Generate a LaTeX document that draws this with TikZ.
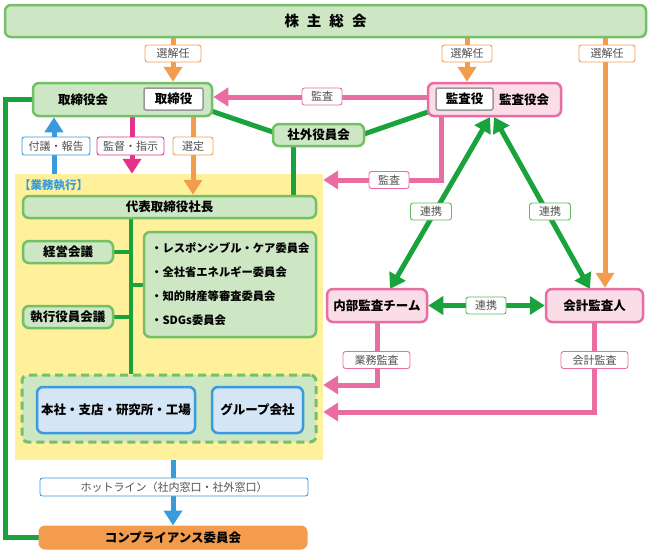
\documentclass[tikz,border=0pt]{standalone}
\usepackage{fontspec}
\setmainfont{Noto Sans CJK JP}
\usetikzlibrary{arrows.meta,calc}
\definecolor{gfill}{HTML}{CDE6C4}
\definecolor{gborder}{HTML}{74C066}
\definecolor{gline}{HTML}{1AA33C}
\definecolor{pfill}{HTML}{FBDDE8}
\definecolor{pline}{HTML}{E96DA3}
\definecolor{oline}{HTML}{F39C4E}
\definecolor{bline}{HTML}{3A9BDC}
\definecolor{bfill}{HTML}{D4E5F5}
\definecolor{mline}{HTML}{E4338B}
\definecolor{yfill}{HTML}{FFF09C}
\definecolor{lbltext}{HTML}{505050}
\definecolor{glbl}{HTML}{5DBB5F}
\pgfdeclarelayer{bg}
\pgfdeclarelayer{lines}
\pgfsetlayers{bg,lines,main}
\begin{document}
\begin{tikzpicture}[x=1pt,y=-1pt,
  gbox/.style={draw=gborder,fill=gfill,line width=2.5pt,rounded corners=6pt,inner sep=0pt,font=\fontsize{12.5}{14}\selectfont\bfseries},
  pbox/.style={draw=pline,fill=pfill,line width=2.5pt,rounded corners=6pt,inner sep=0pt,font=\fontsize{12.5}{14}\selectfont\bfseries},
  bbox/.style={draw=bline,fill=bfill,line width=2.5pt,rounded corners=6pt,inner sep=0pt,font=\fontsize{12.5}{14}\selectfont\bfseries},
  wbox/.style={draw=black!40,fill=white,line width=1.5pt,rounded corners=2pt,inner sep=0pt,font=\fontsize{12.5}{14}\selectfont\bfseries},
  txt/.style={inner sep=0pt,font=\fontsize{12.5}{14}\selectfont\bfseries},
  lbl/.style={draw=#1,fill=white,line width=0.9pt,rounded corners=2.5pt,inner sep=0pt,text=lbltext,font=\fontsize{11}{12}\selectfont,minimum height=17pt},
  arr/.style={line width=5pt,-{Triangle[width=18pt,length=15pt]}},
  darr/.style={line width=5pt,{Triangle[width=18pt,length=15pt]}-{Triangle[width=18pt,length=15pt]}},
  conn/.style={line width=5pt,draw=gline},
]
\useasboundingbox (0,0) rectangle (648,554);

% yellow area
\begin{pgfonlayer}{bg}
\node[fill=yfill,inner sep=0pt,minimum width=308pt,minimum height=286pt] (yellowarea) at (169,317) {};
\end{pgfonlayer}
\node[anchor=west,inner sep=0pt,text=bline,font=\fontsize{11.5}{12}\selectfont\bfseries] (gyomutitle) at (19,185) {【業務執行】};

% main boxes
\node[gbox,minimum width=641pt,minimum height=32pt,font=\fontsize{14.5}{16}\selectfont\bfseries] (soukai) at (325.5,21) {株\hspace{8pt}主\hspace{8pt}総\hspace{8pt}会};
\node[gbox,minimum width=179pt,minimum height=33pt] (torikai) at (122.5,99.5) {};
\node[txt] (torikaitxt) at (83,99.5) {取締役会};
\node[wbox,minimum width=59pt,minimum height=22pt] (torishimari) at (173.5,99) {取締役};
\node[pbox,minimum width=133pt,minimum height=33pt] (kansakai) at (494.5,99.5) {};
\node[txt] (kansakaitxt) at (524,99.5) {監査役会};
\node[wbox,minimum width=57pt,minimum height=22pt] (kansayaku) at (464.5,99) {監査役};
\node[gbox,minimum width=91pt,minimum height=22pt] (shagai) at (318.5,135) {社外役員会};

\node[gbox,minimum width=293pt,minimum height=22pt] (daihyo) at (169.5,207) {代表取締役社長};
\node[gbox,minimum width=90pt,minimum height=22pt] (keiei) at (68,252) {経営会議};
\node[gbox,minimum width=90pt,minimum height=22pt] (shikko) at (68,317) {執行役員会議};
\node[gbox,minimum width=172pt,minimum height=105pt] (iinkai) at (230,284.5) {};
\node[txt,anchor=west,align=left,font=\fontsize{11.3}{24}\selectfont\bfseries] (iinkaitxt) at (151,284.5) {・レスポンシブル・ケア委員会\\・全社省エネルギー委員会\\・知的財産等審査委員会\\・SDGs委員会};

\node[draw=gborder,fill=gfill,line width=3pt,dash pattern=on 8pt off 5pt,rounded corners=6pt,minimum width=294pt,minimum height=67pt,inner sep=0pt] (dashed) at (169,408.5) {};
\node[bbox,minimum width=158pt,minimum height=46pt] (honsha) at (116,410) {本社・支店・研究所・工場};
\node[bbox,minimum width=91pt,minimum height=46pt] (group) at (257.5,410) {グループ会社};

\node[draw=oline,fill=oline,line width=1pt,rounded corners=6pt,minimum width=268pt,minimum height=23pt,inner sep=0pt,font=\fontsize{12.5}{14}\selectfont\bfseries] (comp) at (173,537.5) {コンプライアンス委員会};

\node[pbox,minimum width=100pt,minimum height=33pt] (naibu) at (377,305.5) {内部監査チーム};
\node[pbox,minimum width=97pt,minimum height=33pt] (kaikei) at (594.5,305.5) {会計監査人};

% helper coordinates
\coordinate (xa) at (173,0);
\coordinate (xb) at (467,0);
\coordinate (xc) at (605,0);
\coordinate (xf) at (54,0);
\coordinate (xm) at (132,0);
\coordinate (xs) at (193,0);
\coordinate (xv) at (293,0);
\coordinate (xk) at (441,0);
\coordinate (xg) at (131,0);
\coordinate (ya) at (0,180);
\coordinate (yb) at (0,385);
\coordinate (yc) at (0,412);
\coordinate (yd) at (0,284.5);
\coordinate (yk) at (0,97);
\coordinate (tl) at (490,117);
\coordinate (tr) at (494,117);
\coordinate (bl) at (390,289);
\coordinate (br) at (590,289);

% connectors
\begin{pgfonlayer}{lines}
\draw[arr,draw=oline] (soukai.south -| xa) -- (torikai.north -| xa);
\draw[arr,draw=oline] (soukai.south -| xb) -- (kansakai.north -| xb);
\draw[arr,draw=oline] (soukai.south -| xc) -- (kaikei.north -| xc);
\draw[arr,draw=pline] (kansakai.west |- yk) -- (torikai.east |- yk);
\draw[conn] ($(torishimari.south east)+(-2,-3)$) -- ($(shagai.west)+(4,-2)$);
\draw[conn] ($(shagai.east)+(-4,0)$) -- ($(kansayaku.south west)+(2,-2)$);
\draw[conn] (shagai.south -| xv) -- (daihyo.north -| xv);
\draw[conn,line join=miter] (torikai.west) -- ++(-26,0) |- (comp.west);
\draw[arr,draw=bline] (yellowarea.north -| xf) -- (torikai.south -| xf);
\draw[arr,draw=mline] (torikai.south -| xm) -- (yellowarea.north -| xm);
\draw[arr,draw=oline] (torikai.south -| xs) -- (daihyo.north -| xs);
\draw[arr,draw=pline,line join=miter] (kansakai.south -| xk) -- (xk |- ya) -- (yellowarea.east |- ya);
\draw[darr,draw=gline] (tl) -- (bl);
\draw[darr,draw=gline] (tr) -- (br);
\draw[darr,draw=gline] (naibu.east) -- (kaikei.west);
\draw[arr,draw=pline,line join=miter] (naibu.south) |- (yellowarea.east |- yb);
\draw[arr,draw=pline,line join=miter] (kaikei.south) |- (yellowarea.east |- yc);
\draw[arr,draw=bline] (yellowarea.south -| xa) -- (comp.north -| xa);
\draw[line width=4pt,draw=gline] (daihyo.south -| xg) -- (dashed.north -| xg);
\draw[line width=4pt,draw=gline] (keiei.east) -- (keiei.east -| xg);
\draw[line width=4pt,draw=gline] (shikko.east) -- (shikko.east -| xg);
\draw[line width=4pt,draw=gline] (xg |- yd) -- (iinkai.west |- yd);
\end{pgfonlayer}

% labels
\node[lbl=oline,minimum width=56pt] (senkai1) at (173,53.5) {選解任};
\node[lbl=oline,minimum width=50pt] (senkai2) at (467,53.5) {選解任};
\node[lbl=oline,minimum width=56pt] (senkai3) at (607,53.5) {選解任};
\node[lbl=pline,minimum width=40pt] (kansa1) at (322,96.5) {監査};
\node[lbl=bline,minimum width=68pt,minimum height=18pt] (fugi) at (56,146) {付議・報告};
\node[lbl=mline,minimum width=67pt,minimum height=18pt] (kantoku) at (130.5,146) {監督・指示};
\node[lbl=oline,minimum width=40pt,minimum height=18pt] (sentei) at (193,146) {選定};
\node[lbl=pline,minimum width=40pt] (kansa2) at (389,180) {監査};
\node[lbl=glbl,minimum width=41pt] (renkei1) at (431,211.5) {連携};
\node[lbl=glbl,minimum width=41pt] (renkei2) at (550,211.5) {連携};
\node[lbl=glbl,minimum width=40pt] (renkei3) at (486,305.5) {連携};
\node[lbl=pline,minimum width=67pt] (gyomukansa) at (376.5,360) {業務監査};
\node[lbl=pline,minimum width=67pt] (kaikeikansa) at (594.5,360) {会計監査};
\node[lbl=bline,minimum width=268pt,minimum height=18pt] (hotline) at (174,487) {ホットライン（社内窓口・社外窓口）};
\end{tikzpicture}
\end{document}
